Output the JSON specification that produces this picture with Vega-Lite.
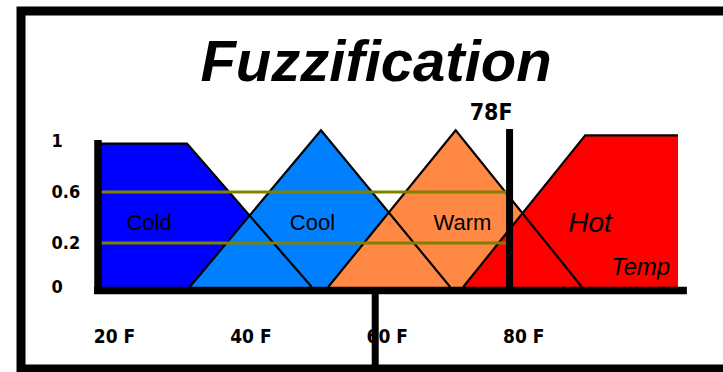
{
  "$schema": "https://vega.github.io/schema/vega-lite/v6.json",
  "width": 710,
  "height": 358,
  "autosize": {"type": "none"},
  "padding": {"left": 21, "top": 11, "right": -8, "bottom": 3},
  "background": "white",
  "config": {"view": {"stroke": "black", "strokeWidth": 9}},
  "title": {
    "text": "Fuzzification",
    "anchor": "middle",
    "frame": "group",
    "orient": "top",
    "offset": -72,
    "dy": 56,
    "baseline": "alphabetic",
    "font": "Liberation Sans",
    "fontSize": 58,
    "fontStyle": "italic",
    "fontWeight": "bold",
    "color": "black"
  },
  "datasets": {
    "membership": [
      {"set": "Cold", "temp": 17.65, "mu": 0.98},
      {"set": "Cold", "temp": 30.7, "mu": 0.98},
      {"set": "Cold", "temp": 49.0, "mu": -0.145},
      {"set": "Cool", "temp": 31.1, "mu": -0.145},
      {"set": "Cool", "temp": 50.35, "mu": 1.085},
      {"set": "Cool", "temp": 69.3, "mu": -0.145},
      {"set": "Warm", "temp": 51.4, "mu": -0.145},
      {"set": "Warm", "temp": 70.1, "mu": 1.085},
      {"set": "Warm", "temp": 88.6, "mu": -0.145},
      {"set": "Hot", "temp": 71.2, "mu": -0.145},
      {"set": "Hot", "temp": 89.1, "mu": 1.045},
      {"set": "Hot", "temp": 102.7, "mu": 1.045}
    ],
    "names": [
      {"set": "Cold", "temp": 25.13, "mu": 0.302},
      {"set": "Cool", "temp": 49.1, "mu": 0.302},
      {"set": "Warm", "temp": 71.1, "mu": 0.302},
      {"set": "Hot", "temp": 89.8, "mu": 0.286}
    ],
    "cuts": [
      {"mu": 0.6, "from": 17.8, "to": 78},
      {"mu": 0.2, "from": 17.8, "to": 78}
    ],
    "xAxisLine": [{"from": 17.07, "to": 104.0, "mu": -0.1724}],
    "yAxisLine": [{"temp": 17.65, "lo": -0.2, "hi": 1.008}],
    "reading": [{"temp": 78, "lo": -0.145, "hi": 1.094, "label": "78F"}],
    "divider": [{"temp": 58.3, "lo": -0.2, "hi": -0.76}],
    "axisName": [{"label": "Temp", "temp": 97.2, "mu": -0.051}]
  },
  "layer": [
    {
      "data": {"name": "membership"},
      "mark": {"type": "area"},
      "encoding": {
        "x": {
          "field": "temp",
          "type": "quantitative",
          "scale": {"domain": [6.36, 110.47], "nice": false, "zero": false},
          "axis": {
            "title": null,
            "values": [20, 40, 60, 80],
            "labelExpr": "datum.value + ' F'",
            "orient": "bottom",
            "offset": -78,
            "domain": false,
            "ticks": false,
            "grid": false,
            "labelPadding": 36,
            "labelOverlap": false,
            "labelFlush": false,
            "labelFont": "DejaVu Sans Condensed",
            "labelFontWeight": "bold",
            "labelFontSize": 19,
            "labelColor": "black",
            "zindex": 0
          }
        },
        "y": {
          "field": "mu",
          "type": "quantitative",
          "stack": null,
          "scale": {"domain": [-0.788, 2.02], "nice": false, "zero": false},
          "axis": {
            "title": null,
            "values": [-0.145, 0.2, 0.6, 1],
            "labelExpr": "datum.value < 0 ? '0' : format(datum.value, '~g')",
            "orient": "left",
            "offset": -77,
            "domain": false,
            "ticks": false,
            "grid": false,
            "labelAlign": "left",
            "labelBaseline": "middle",
            "labelPadding": 47,
            "labelOverlap": false,
            "labelFlush": false,
            "labelFont": "DejaVu Sans Condensed",
            "labelFontWeight": "bold",
            "labelFontSize": 18,
            "labelColor": "black",
            "zindex": 0
          }
        },
        "y2": {"datum": -0.145},
        "color": {
          "field": "set",
          "type": "nominal",
          "scale": {"domain": ["Cold", "Cool", "Warm", "Hot"], "range": ["#0000ff", "#0080ff", "#ff8844", "#ff0000"]},
          "legend": null
        }
      }
    },
    {
      "data": {"name": "membership"},
      "mark": {"type": "line", "color": "black", "strokeWidth": 2.2},
      "encoding": {
        "x": {"field": "temp", "type": "quantitative"},
        "y": {"field": "mu", "type": "quantitative"},
        "detail": {"field": "set", "type": "nominal"}
      }
    },
    {
      "data": {"name": "cuts"},
      "mark": {"type": "rule", "color": "#808000", "strokeWidth": 3},
      "encoding": {
        "x": {"field": "from", "type": "quantitative"},
        "x2": {"field": "to"},
        "y": {"field": "mu", "type": "quantitative"}
      }
    },
    {
      "data": {"name": "xAxisLine"},
      "mark": {"type": "rule", "color": "black", "strokeWidth": 7.5, "strokeCap": "butt"},
      "encoding": {
        "x": {"field": "from", "type": "quantitative"},
        "x2": {"field": "to"},
        "y": {"field": "mu", "type": "quantitative"}
      }
    },
    {
      "data": {"name": "yAxisLine"},
      "mark": {"type": "rule", "color": "black", "strokeWidth": 7.5, "strokeCap": "butt"},
      "encoding": {
        "x": {"field": "temp", "type": "quantitative"},
        "y": {"field": "lo", "type": "quantitative"},
        "y2": {"field": "hi"}
      }
    },
    {
      "data": {"name": "reading"},
      "mark": {"type": "rule", "color": "black", "strokeWidth": 7, "strokeCap": "butt"},
      "encoding": {
        "x": {"field": "temp", "type": "quantitative"},
        "y": {"field": "lo", "type": "quantitative"},
        "y2": {"field": "hi"}
      }
    },
    {
      "data": {"name": "reading"},
      "mark": {"type": "text", "align": "right", "baseline": "alphabetic", "font": "DejaVu Sans Condensed", "fontWeight": "bold", "fontSize": 23, "color": "black", "dx": 3},
      "encoding": {
        "x": {"field": "temp", "type": "quantitative"},
        "y": {"datum": 1.165},
        "text": {"field": "label"}
      }
    },
    {
      "data": {"name": "divider"},
      "mark": {"type": "rule", "color": "black", "strokeWidth": 7, "strokeCap": "butt"},
      "encoding": {
        "x": {"field": "temp", "type": "quantitative"},
        "y": {"field": "lo", "type": "quantitative"},
        "y2": {"field": "hi"}
      }
    },
    {
      "data": {"name": "names"},
      "transform": [{"filter": "datum.set != 'Hot'"}],
      "mark": {"type": "text", "align": "center", "baseline": "alphabetic", "font": "Liberation Sans", "fontSize": 22, "color": "black"},
      "encoding": {
        "x": {"field": "temp", "type": "quantitative"},
        "y": {"field": "mu", "type": "quantitative"},
        "text": {"field": "set"}
      }
    },
    {
      "data": {"name": "names"},
      "transform": [{"filter": "datum.set == 'Hot'"}],
      "mark": {"type": "text", "align": "center", "baseline": "alphabetic", "font": "Liberation Sans", "fontSize": 28, "fontStyle": "italic", "color": "black"},
      "encoding": {
        "x": {"field": "temp", "type": "quantitative"},
        "y": {"field": "mu", "type": "quantitative"},
        "text": {"field": "set"}
      }
    },
    {
      "data": {"name": "axisName"},
      "mark": {"type": "text", "align": "center", "baseline": "alphabetic", "font": "Liberation Sans", "fontSize": 24, "fontStyle": "italic", "color": "black"},
      "encoding": {
        "x": {"field": "temp", "type": "quantitative"},
        "y": {"field": "mu", "type": "quantitative"},
        "text": {"field": "label"}
      }
    }
  ]
}
